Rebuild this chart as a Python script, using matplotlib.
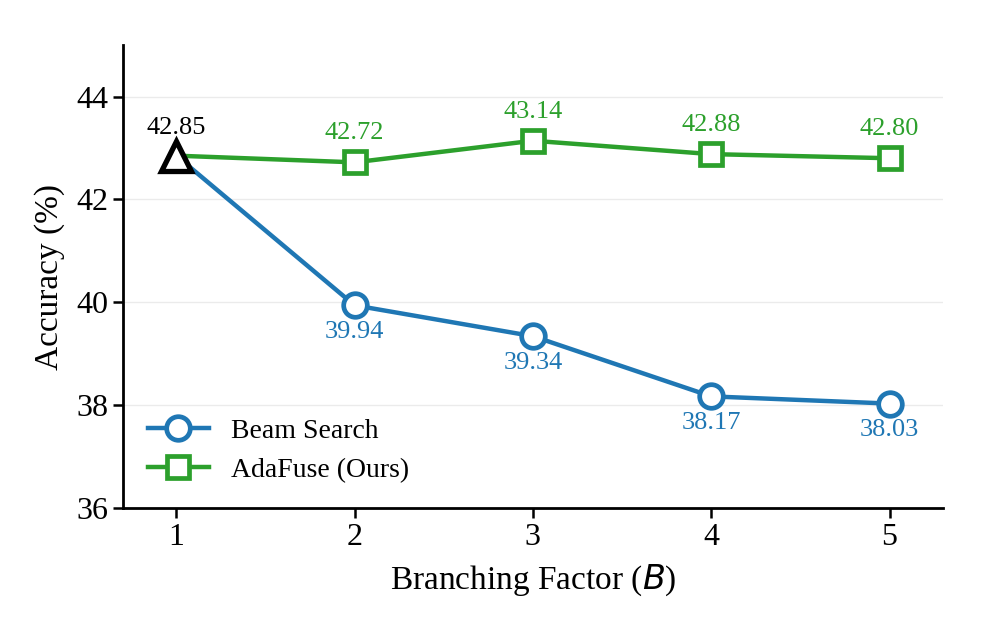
import matplotlib
matplotlib.use("Agg")
import matplotlib.pyplot as plt

plt.rcParams['font.family'] = ['Liberation Serif', 'DejaVu Serif']

# datos
factores = [1, 2, 3, 4, 5]
beam = [42.85, 39.94, 39.34, 38.17, 38.03]
adafuse = [42.85, 42.72, 43.14, 42.88, 42.80]

azul = '#1f77b4'
verde = '#2ca02c'

fig = plt.figure(figsize=(9.98, 6.26), dpi=100)
ax = fig.add_axes([0.123, 0.1885, 0.822, 0.7395])

ax.plot(factores, beam, color=azul, lw=3.2, marker='o', ms=17, mfc='white',
        mew=3.4, markevery=[1, 2, 3, 4], label='Beam Search', zorder=3)
ax.plot(factores, adafuse, color=verde, lw=3.2, marker='s', ms=15.5, mfc='white',
        mew=3.4, markevery=[1, 2, 3, 4], label='AdaFuse (Ours)', zorder=3)
# punto inicial compartido
ax.plot(factores[0], beam[0], marker='^', ms=21, mfc='white', mec='black',
        mew=3.8, ls='none', zorder=4)

# etiquetas de valores
ax.annotate(f'{beam[0]:.2f}', (factores[0], beam[0]), xytext=(0, 20),
            textcoords='offset points', ha='center', va='center', fontsize=19, color='black')
for x, y in zip(factores[1:], adafuse[1:]):
    ax.annotate(f'{y:.2f}', (x, y), xytext=(0, 21), textcoords='offset points',
                ha='center', va='center', fontsize=19, color=verde)
for x, y in zip(factores[1:], beam[1:]):
    ax.annotate(f'{y:.2f}', (x, y), xytext=(0, -19), textcoords='offset points',
                ha='center', va='center', fontsize=19, color=azul)

ax.set_xlim(0.7, 5.3)
ax.set_ylim(36, 45)
ax.set_xticks(factores)
ax.set_yticks([36, 38, 40, 42, 44])
ax.tick_params(labelsize=23, width=1.8, length=7)
ax.yaxis.grid(True, color='#ebebeb', lw=1)
ax.set_axisbelow(True)
for s in ['top', 'right']:
    ax.spines[s].set_visible(False)
for s in ['left', 'bottom']:
    ax.spines[s].set_linewidth(2)

ax.set_xlabel('Branching Factor ($B$)', fontsize=24, labelpad=8)
ax.set_ylabel('Accuracy (%)', fontsize=24, labelpad=8)
ax.legend(loc='lower left', frameon=False, fontsize=20, handlelength=2.2,
          bbox_to_anchor=(0.0, 0.0))

fig.savefig('out.png', dpi=100)
